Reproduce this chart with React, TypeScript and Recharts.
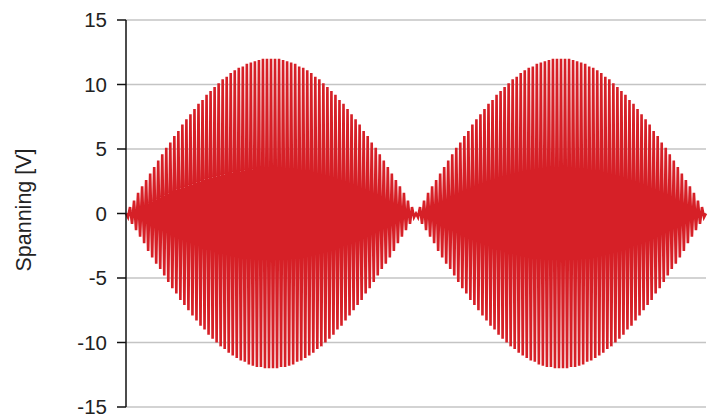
import { ComposedChart, Line, XAxis, YAxis, CartesianGrid } from 'recharts';

// first lobe of the beat signal, peak per half-cycle
const LOBE = [
  0, -0.3, 0.5, -0.8, 1.0, -1.3, 1.6, -1.8, 2.1, -2.3,
  2.6, -2.9, 3.1, -3.4, 3.6, -3.9, 4.1, -4.3, 4.6, -4.8,
  5.1, -5.3, 5.5, -5.8, 6.0, -6.2, 6.4, -6.7, 6.9, -7.1,
  7.3, -7.5, 7.7, -7.9, 8.1, -8.3, 8.5, -8.7, 8.8, -9.0,
  9.2, -9.4, 9.5, -9.7, 9.8, -10.0, 10.1, -10.3, 10.4, -10.5,
  10.6, -10.8, 10.9, -11.0, 11.1, -11.2, 11.3, -11.4, 11.4, -11.5,
  11.6, -11.7, 11.7, -11.8, 11.8, -11.9, 11.9, -11.9, 12.0, -12.0,
  12.0, -12.0, 12.0, -12.0, 12.0, -12.0, 12.0, -11.9, 11.9, -11.9,
  11.8, -11.8, 11.7, -11.7, 11.6, -11.5, 11.4, -11.4, 11.3, -11.2,
  11.1, -11.0, 10.9, -10.8, 10.6, -10.5, 10.4, -10.3, 10.1, -10.0,
  9.8, -9.7, 9.5, -9.4, 9.2, -9.0, 8.8, -8.7, 8.5, -8.3,
  8.1, -7.9, 7.7, -7.5, 7.3, -7.1, 6.9, -6.7, 6.4, -6.2,
  6.0, -5.8, 5.5, -5.3, 5.1, -4.8, 4.6, -4.3, 4.1, -3.9,
  3.6, -3.4, 3.1, -2.9, 2.6, -2.3, 2.1, -1.8, 1.6, -1.3,
  1.0, -0.8, 0.5, -0.3, 0,
];

// second lobe, same shape
const LOBE2 = [
  -0.3, 0.5, -0.8, 1.0, -1.3, 1.6, -1.8, 2.1, -2.3,
  2.6, -2.9, 3.1, -3.4, 3.6, -3.9, 4.1, -4.3, 4.6, -4.8,
  5.1, -5.3, 5.5, -5.8, 6.0, -6.2, 6.4, -6.7, 6.9, -7.1,
  7.3, -7.5, 7.7, -7.9, 8.1, -8.3, 8.5, -8.7, 8.8, -9.0,
  9.2, -9.4, 9.5, -9.7, 9.8, -10.0, 10.1, -10.3, 10.4, -10.5,
  10.6, -10.8, 10.9, -11.0, 11.1, -11.2, 11.3, -11.4, 11.4, -11.5,
  11.6, -11.7, 11.7, -11.8, 11.8, -11.9, 11.9, -11.9, 12.0, -12.0,
  12.0, -12.0, 12.0, -12.0, 12.0, -12.0, 12.0, -11.9, 11.9, -11.9,
  11.8, -11.8, 11.7, -11.7, 11.6, -11.5, 11.4, -11.4, 11.3, -11.2,
  11.1, -11.0, 10.9, -10.8, 10.6, -10.5, 10.4, -10.3, 10.1, -10.0,
  9.8, -9.7, 9.5, -9.4, 9.2, -9.0, 8.8, -8.7, 8.5, -8.3,
  8.1, -7.9, 7.7, -7.5, 7.3, -7.1, 6.9, -6.7, 6.4, -6.2,
  6.0, -5.8, 5.5, -5.3, 5.1, -4.8, 4.6, -4.3, 4.1, -3.9,
  3.6, -3.4, 3.1, -2.9, 2.6, -2.3, 2.1, -1.8, 1.6, -1.3,
  1.0, -0.8, 0.5, -0.3, 0,
];

const Y_TICKS = [-15, -10, -5, 0, 5, 10, 15];
const Y_LABEL = 'Spanning [V]';

const FONT = '"Liberation Sans", Arial, sans-serif';

const data = [...LOBE, ...LOBE2].map((v, i) => ({ t: i, v }));

const YLabel = () => (
  <text
    x={24}
    y={210}
    transform="rotate(-90, 24, 210)"
    textAnchor="middle"
    dominantBaseline="central"
    fontFamily={FONT}
    fontSize={21.5}
    fill="#222"
  >
    {Y_LABEL}
  </text>
);

export default function App() {
  return (
    <div style={{ position: 'absolute', left: 0, top: 0, background: '#fff' }}>
      <ComposedChart
        width={716}
        height={418}
        data={data}
        margin={{ top: 20, right: 10, bottom: 11, left: 0 }}
      >
        <CartesianGrid vertical={false} stroke="#c4c4c4" strokeWidth={1.5} />
        <XAxis dataKey="t" type="number" domain={[0, data.length - 1]} hide />
        <YAxis
          width={126}
          domain={[-15, 15]}
          ticks={Y_TICKS}
          interval={0}
          tickSize={9}
          tickMargin={10}
          stroke="#111"
          strokeWidth={1.5}
          tick={{ fill: '#222', fontSize: 20.5, fontFamily: FONT }}
          label={<YLabel />}
        />
        <Line
          type="linear"
          dataKey="v"
          stroke="#d62027"
          strokeWidth={2.6}
          dot={false}
          isAnimationActive={false}
        />
      </ComposedChart>
    </div>
  );
}
